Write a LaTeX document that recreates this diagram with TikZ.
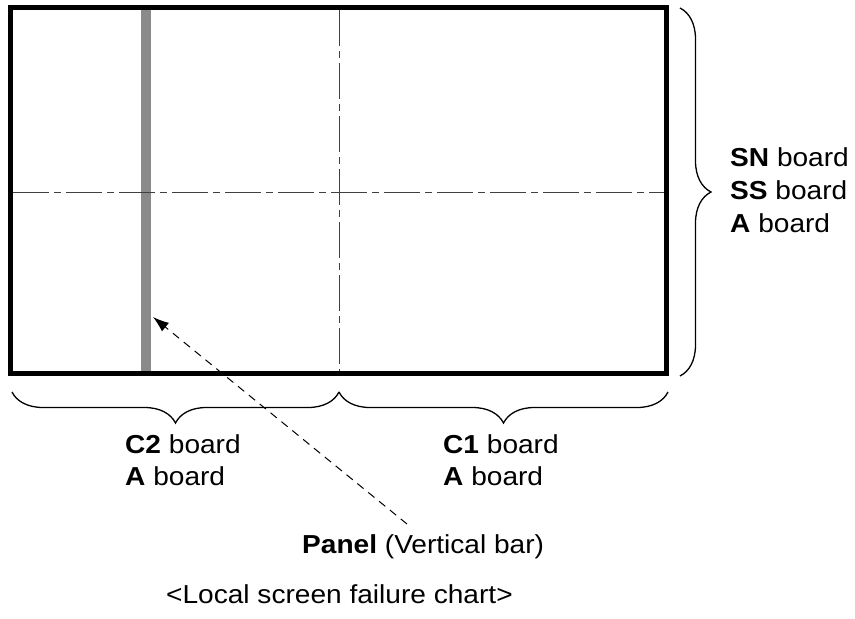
\documentclass[tikz,border=0pt]{standalone}
\usepackage{fontspec}
\setmainfont{Liberation Sans}[FakeStretch=1.08]
\usepackage{tikz}
\usetikzlibrary{positioning}
\usetikzlibrary{arrows.meta}
\usetikzlibrary{decorations.pathreplacing}

\begin{document}
\begin{tikzpicture}[x=1pt,y=-1pt,
		lbl/.style={anchor=base west,inner sep=0pt,font=\fontsize{26}{33}\selectfont},
		centerline/.style={draw=black!75,line width=1pt,dash pattern=on 36pt off 5pt on 7pt off 5pt},
		bracket/.style={draw,line width=1.3pt,decorate,decoration={brace,amplitude=31pt}}]
		\useasboundingbox (0,0) rectangle (855,619);
		
		% gray bar on the panel
		\fill[black!46] (141,10) rectangle (151,371);
		\coordinate (bartip) at (153,317);
		
		% center lines
		\draw[centerline] (339,10) -- (339,371);
		\draw[centerline] (13,192) -- (664,192);
		
		% screen frame
		\draw[line width=5pt] (10.5,7.5) rectangle (666.5,373.5);
		
		% braces
		\draw[bracket] (680,8) -- (680,376);
		\draw[bracket] (339,392) -- (12,392);
		\draw[bracket] (668,392) -- (339,392);
		
		% labels
		\node[lbl] (sn) at (730,166) {\textbf{SN} board};
		\node[lbl] (ss) at (730,199) {\textbf{SS} board};
		\node[lbl] (ab) at (730,232) {\textbf{A} board};
		
		\node[lbl] (ctwo) at (125,453) {\textbf{C2} board};
		\node[lbl] (ctwoa) at (125,485) {\textbf{A} board};
		\node[lbl] (cone) at (443,453) {\textbf{C1} board};
		\node[lbl] (conea) at (443,485) {\textbf{A} board};
		
		\node[lbl] (panel) at (302,553) {\textbf{Panel} (Vertical bar)};
		\coordinate (paneltop) at (407,524);
		\draw[line width=1pt,dash pattern=on 8pt off 6pt,-{Latex[length=16pt,width=11pt]}] (paneltop) -- (bartip);
		
		\node[lbl] (chart) at (166,603) {<Local screen failure chart>};
	\end{tikzpicture}
\end{document}
